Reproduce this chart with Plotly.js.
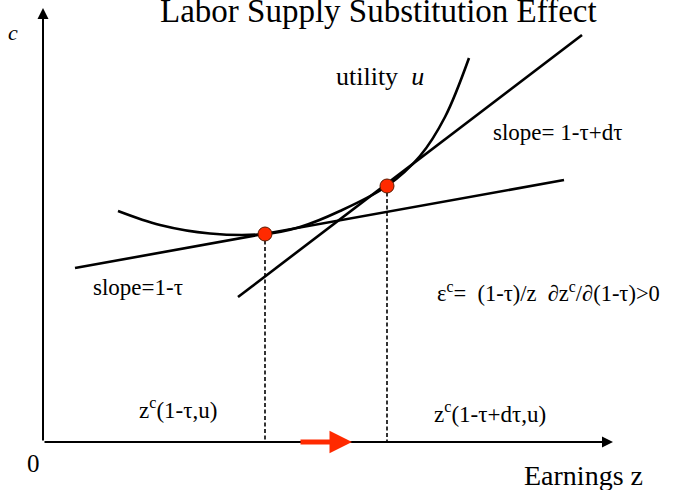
<!DOCTYPE html>
<html>
<head>
<meta charset="utf-8">
<script src="https://cdn.plot.ly/plotly-3.0.1.min.js"></script>
<style>html,body{margin:0;padding:0;background:#fff}</style>
</head>
<body>
<div id="chart" style="width:677px;height:490px"></div>
<script>
// diagram units: origin at the axis corner, x = earnings z, y = consumption c
var curveZ = [75, 117, 167, 222, 257, 297, 344, 377, 402, 426];
var curveC = [231, 217, 208.5, 208, 215, 231, 256, 286, 325, 384];

var budgetOldZ = [32, 521];
var budgetOldC = [174, 262];
var budgetNewZ = [195, 539];
var budgetNewC = [145, 407];

var optZ = [222, 344];
var optC = [208, 256];

var serif = 'Liberation Serif, Times New Roman, serif';

var dropZ = [], dropC = [];
for (var i = 0; i < optZ.length; i++) {
  dropZ.push(optZ[i], optZ[i], null);
  dropC.push(optC[i], 0, null);
}

var data = [
  {x: budgetOldZ, y: budgetOldC, mode: 'lines', line: {color: '#000', width: 2.6}},
  {x: budgetNewZ, y: budgetNewC, mode: 'lines', line: {color: '#000', width: 2.6}},
  {x: curveZ, y: curveC, mode: 'lines', line: {color: '#000', width: 2.6, shape: 'spline', smoothing: 1}},
  {x: dropZ, y: dropC, mode: 'lines', line: {color: '#000', width: 1.6, dash: '4px,2.5px'}},
  {x: optZ, y: optC, mode: 'markers',
   marker: {color: '#ff2a00', size: 14, line: {color: '#5a1a00', width: 1}}}
];

function label(x, y, text, size) {
  return {x: x, y: y, xref: 'x', yref: 'y', text: text, showarrow: false,
    font: {family: serif, size: size, color: '#000'}};
}

function arrow(x, y, ax, ay, color, width, size) {
  return {x: x, y: y, ax: ax, ay: ay, xref: 'x', yref: 'y', axref: 'x', ayref: 'y',
    text: '', showarrow: true, arrowhead: 2, arrowsize: size, arrowwidth: width,
    arrowcolor: color, standoff: 0, startstandoff: 0};
}

var annotations = [
  arrow(0, 434, 0, 0, '#000', 2, 1.1),
  arrow(570, 0, 0, 0, '#000', 2, 1.1),
  arrow(309, 0, 256, 0, '#ff2a00', 5, 0.9),
  label(-30, 410, '<i>c</i>', 22),
  label(337, 366, 'utility&nbsp; <i>u</i>', 26),
  label(514, 310, 'slope= 1-τ+dτ', 23),
  label(95, 155, 'slope=1-τ', 23),
  label(505, 150, 'ε<sup>c</sup>=&nbsp; (1-τ)/z&nbsp; ∂z<sup>c</sup>/∂(1-τ)>0', 22.5),
  label(135, 34, 'z<sup>c</sup>(1-τ,u)', 23),
  label(447, 30, 'z<sup>c</sup>(1-τ+dτ,u)', 23),
  label(-10, -21, '0', 25),
  label(540, -33, 'Earnings z', 28),
  label(335, 431, 'Labor Supply Substitution Effect', 33)
];

var hidden = {showgrid: false, zeroline: false, showticklabels: false, showline: false, ticks: ''};
var xaxis = Object.assign({range: [-43, 634]}, hidden);
var yaxis = Object.assign({range: [-48, 442]}, hidden);

var layout = {
  width: 677,
  height: 490,
  margin: {l: 0, r: 0, t: 0, b: 0},
  showlegend: false,
  paper_bgcolor: '#fff',
  plot_bgcolor: '#fff',
  xaxis: xaxis,
  yaxis: yaxis,
  annotations: annotations
};

Plotly.newPlot('chart', data, layout, {displayModeBar: false, staticPlot: true});
</script>
</body>
</html>
